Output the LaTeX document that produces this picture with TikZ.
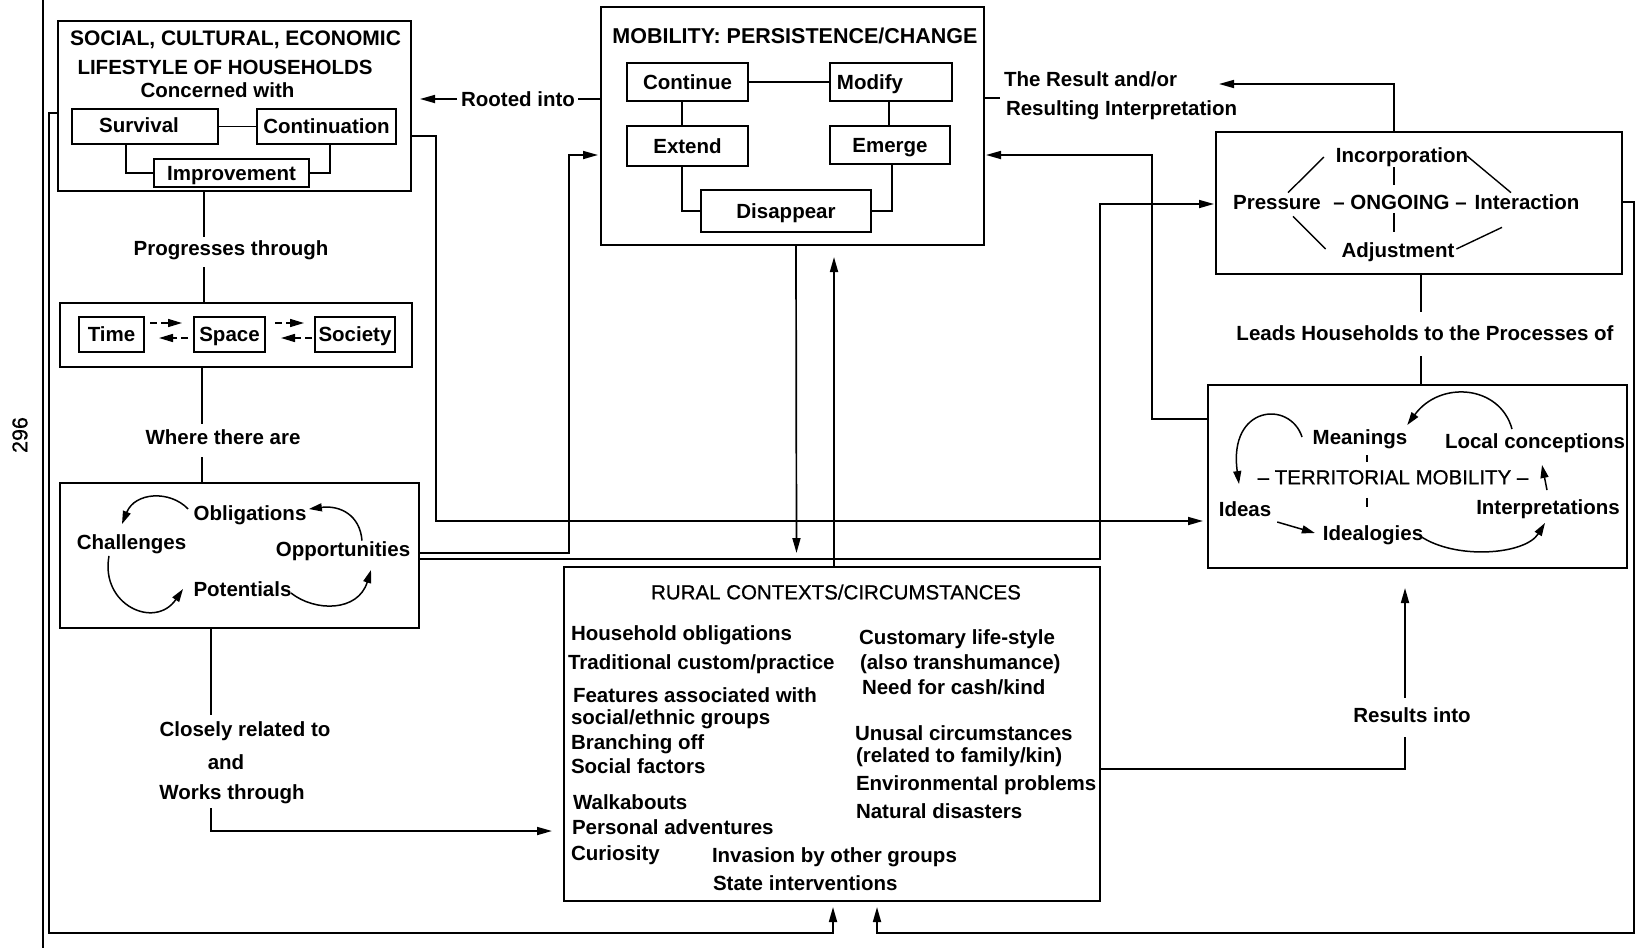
\documentclass[tikz,border=0pt]{standalone}
\usepackage{fontspec}
\setmainfont{Liberation Sans}
\newfontfamily\medfont[FakeBold=0.7]{Liberation Sans}
\usetikzlibrary{arrows.meta,calc}
\begin{document}
\begin{tikzpicture}[x=1pt,y=-1pt,
  every node/.style={inner sep=0pt,outer sep=0pt,text height=14.7pt,text depth=0pt,
     font=\fontsize{20.5}{24}\selectfont\bfseries},
  reg/.style={font=\fontsize{20.5}{24}\selectfont},
  med/.style={font=\fontsize{20.5}{24}\medfont},
  bx/.style 2 args={draw,line width=1.7pt,minimum width=#1pt,minimum height=#2pt},
  ln/.style={line width=1.7pt},
  fine/.style={line width=1.4pt},
  arr/.style={line width=1.7pt,-{Triangle[length=15pt,width=8pt]}},
  carr/.style={line width=1.5pt,-{Triangle[length=13pt,width=8pt]}},
  darr/.style={line width=1.5pt,dash pattern=on 7pt off 4pt,-{Triangle[length=14pt,width=8pt]}},
]
\useasboundingbox (0,0) rectangle (1648,948);

% page margin rule and page number
\draw[ln] (43,0) -- (43,948);
\node[font=\fontsize{21.5}{24}\medfont,rotate=90] (pg) at (20,435) {296};

% ---------- household lifestyle ----------
\node[bx={353}{170}] (soc) at (234.5,106) {};
\node[font=\fontsize{21}{24}\selectfont\bfseries] (socA) at (235.5,38) {SOCIAL, CULTURAL, ECONOMIC};
\node (socB) at (225,67) {LIFESTYLE OF HOUSEHOLDS};
\node (socC) at (217.5,90) {Concerned with};
\node[bx={146}{35}] (surv) at (145,126.5) {};
\node (survT) at (139,125) {Survival};
\node[bx={139}{35}] (contn) at (326.5,126.5) {Continuation};
\node[bx={155}{28}] (impr) at (231.5,173) {Improvement};
\draw[ln] (surv.east) -- (contn.west);
\draw[ln] ($(surv.south)+(-19,0)$) |- (impr.west);
\draw[ln] ($(contn.south)+(3.5,0)$) |- (impr.east);

\node (prog) at (231,248) {Progresses through};
\draw[ln] ($(soc.south)+(-30.5,0)$) -- ($(prog.north)+(-27,-4)$);

% ---------- time / space / society ----------
\node[bx={352}{64}] (tss) at (236,335) {};
\node[bx={65}{35}] (time) at (111.5,334.5) {Time};
\node[bx={71}{35}] (space) at (229.5,334.5) {Space};
\node[bx={80}{35}] (soct) at (355,334.5) {Society};
\draw[ln] ($(prog.south)+(-27,12)$) -- ($(tss.north)+(-32,0)$);
\draw[darr] ($(time.east)+(6,-11.5)$) -- ($(space.west)+(-12,-11.5)$);
\draw[darr] ($(space.west)+(-6,3.5)$) -- ($(time.east)+(15,3.5)$);
\draw[darr] ($(space.east)+(10,-11.5)$) -- ($(soct.west)+(-11,-11.5)$);
\draw[darr] ($(soct.west)+(-3,3.5)$) -- ($(space.east)+(16,3.5)$);

\node (where) at (223,437) {Where there are};
\draw[ln] ($(tss.south)+(-34,0)$) -- ($(where.north)+(-21,-6)$);

% ---------- challenges / opportunities ----------
\node[bx={359}{145}] (ch) at (239.5,555.5) {};
\draw[ln] ($(where.south)+(-21,13)$) -- ($(ch.north)+(-37.5,0)$);
\node (obl) at (250,513) {Obligations};
\node (chal) at (131.5,542) {Challenges};
\node (opp) at (343,549) {Opportunities};
\node (pot) at (242.5,589) {Potentials};
\draw[carr] ($(obl.west)+(-5.5,-4)$) .. controls (170,490) and (135,492) .. ($(chal.north)+(-9.5,-10.6)$);
\draw[carr] ($(opp.north)+(19,-1)$) .. controls (360,515) and (340,505) .. ($(obl.east)+(2.5,-4)$);
\draw[carr] ($(chal.south)+(-22.5,6.6)$) .. controls (100,605) and (155,630) .. ($(pot.west)+(-10.5,0)$);
\draw[carr] ($(pot.east)+(-0.5,4)$) .. controls (315,612) and (358,612) .. ($(opp.south)+(28,13.6)$);

\node (clo) at (245,729) {Closely related to};
\node (and) at (226,762) {and};
\node (wrk) at (232,792) {Works through};
\draw[ln] ($(ch.south)+(-28.5,0)$) -- ($(clo.north)+(-34,-7)$);

% ---------- mobility ----------
\node[bx={383}{238}] (mob) at (792.5,126) {};
\node[font=\fontsize{21.5}{24}\selectfont\bfseries] (mobT) at (795,36) {MOBILITY: PERSISTENCE/CHANGE};
\node[bx={121}{38}] (cont) at (687.5,82) {Continue};
\node[bx={122}{38}] (modi) at (891,82) {};
\node (modiT) at (870,82) {Modify};
\node[bx={121}{40}] (ext) at (687.5,146) {Extend};
\node[bx={120}{38}] (emer) at (890,145) {Emerge};
\node[bx={170}{42}] (dis) at (786,211) {Disappear};
\draw[ln] (cont.east) -- (modi.west);
\draw[ln] ($(cont.south)+(-5.5,0)$) -- ($(ext.north)+(-5.5,0)$);
\draw[ln] ($(modi.south)+(-2,0)$) -- ($(emer.north)+(-1,0)$);
\draw[ln] ($(ext.south)+(-5.5,0)$) |- (dis.west);
\draw[ln] ($(emer.south)+(2,0)$) |- (dis.east);

\node (root) at (518,99) {Rooted into};
\coordinate (rootTip) at (420,99);
\draw[ln] (mob.west |- root.east) -- ($(root.east)+(3,0)$);
\draw[arr] ($(root.west)+(-4,0)$) -- (rootTip);

\node[anchor=west] (res1) at (1004,79) {The Result and/or};
\node[anchor=west] (res2) at (1006,108) {Resulting Interpretation};
\draw[ln] ($(mob.east)+(0,-28)$) -- ++(16,0);

% ---------- ongoing ----------
\node[bx={406}{142}] (ong) at (1419,203) {};
\node (inc) at (1402,155) {Incorporation};
\node (pres) at (1277,202) {Pressure};
\node (ongT) at (1400,202) {– ONGOING –};
\node (inter) at (1527,202) {Interaction};
\node (adj) at (1398,250) {Adjustment};
\draw[fine] ($(ongT.north)+(-6,-27.6)$) -- ($(ongT.north)+(-6,-9.6)$);
\draw[fine] ($(ongT.south)+(-6,3.6)$) -- ($(ongT.south)+(-6,22.6)$);
\draw[fine] ($(pres.north)+(11,-2)$) -- ($(inc.west)+(-12,2)$);
\draw[fine] ($(inc.east)+(-1,1)$) -- ($(inter.north)+(-16,-2)$);
\draw[fine] ($(pres.south)+(16,7)$) -- ($(adj.west)+(-16,-1)$);
\draw[fine] ($(adj.east)+(2,-1)$) -- ($(inter.south)+(-25,18)$);

\coordinate (resTip) at (1219,84);
\draw[arr] ($(ong.north)+(-25,0)$) |- (resTip);

\node (leads) at (1425,333) {Leads Households to the Processes of};
\draw[ln] ($(ong.south)+(2,0)$) -- ($(leads.north)+(-4,-14)$);

% ---------- territorial mobility ----------
\node[bx={419}{183}] (terr) at (1417.5,476.5) {};
\draw[ln] ($(leads.south)+(-4,16)$) -- ($(terr.north)+(3.5,0)$);
\node (mean) at (1360,437) {Meanings};
\node (loc) at (1535,441) {Local conceptions};
\node[med] (terrT) at (1393,477) {– TERRITORIAL MOBILITY –};
\node (ideas) at (1245,509) {Ideas};
\node (idl) at (1373,533) {Idealogies};
\node (intp) at (1548,507) {Interpretations};
\draw[fine] ($(terrT.north)+(-26,-14.6)$) -- ($(terrT.north)+(-26,-7.6)$);
\draw[fine] ($(terrT.south)+(-26,13.6)$) -- ($(terrT.south)+(-26,22.6)$);
\draw[carr] ($(mean.west)+(-10.7,0)$) .. controls (1290,400) and (1228,405) .. ($(ideas.north)+(-6,-17.6)$);
\draw[carr] ($(loc.north)+(-23,-4.6)$) .. controls (1500,385) and (1440,380) .. ($(mean.east)+(0,-12)$);
\draw[carr] ($(ideas.east)+(6,13)$) -- ($(idl.west)+(-8,0)$);
\draw[carr] ($(idl.east)+(-3,3)$) .. controls (1455,560) and (1525,555) .. ($(intp.south)+(-3,8.6)$);
\draw[carr] ($(intp.north)+(-1,-9.6)$) -- ($(loc.south)+(7,16.6)$);

% ---------- rural contexts ----------
\node[bx={536}{334}] (rural) at (832,734) {};
\node[med] (rurT) at (836,592) {RURAL CONTEXTS/CIRCUMSTANCES};
\node[anchor=west] (r1) at (571,633) {Household obligations};
\node[anchor=west] (r2) at (568,662) {Traditional custom/practice};
\node[anchor=west] (r3) at (573,695) {Features associated with};
\node[anchor=west] (r4) at (571,717) {social/ethnic groups};
\node[anchor=west] (r5) at (571,742) {Branching off};
\node[anchor=west] (r6) at (571,766) {Social factors};
\node[anchor=west] (r7) at (573,802) {Walkabouts};
\node[anchor=west] (r8) at (572,827) {Personal adventures};
\node[anchor=west] (r9) at (571,853) {Curiosity};
\node[anchor=west] (s1) at (859,637) {Customary life-style};
\node[anchor=west] (s2) at (860,662) {(also transhumance)};
\node[anchor=west] (s3) at (862,687) {Need for cash/kind};
\node[anchor=west] (s4) at (855,733) {Unusal circumstances};
\node[anchor=west] (s5) at (856,755) {(related to family/kin)};
\node[anchor=west] (s6) at (856,783) {Environmental problems};
\node[anchor=west] (s7) at (856,811) {Natural disasters};
\node[anchor=west] (u1) at (712,855) {Invasion by other groups};
\node[anchor=west] (u2) at (713,883) {State interventions};

\coordinate (wkEnd) at (552,831);
\draw[arr] ($(wrk.south)+(-21,9)$) |- (wkEnd);

% ---------- cross connectors ----------
\coordinate (tA) at ($(terr.west)+(-5,44.5)$);
\draw[arr] ($(soc.east)+(0,30)$) -- ++(25,0) |- (tA);
\coordinate (tB) at ($(mob.west)+(-3,29)$);
\draw[arr] ($(ch.east)+(0,-2.5)$) -- ++(150,0) |- (tB);
\coordinate (tC) at ($(ong.west)+(-2,1)$);
\draw[arr] ($(ch.east)+(0,3.5)$) -- ++(681,0) |- (tC);
\coordinate (tD) at ($(mob.east)+(2,29)$);
\draw[arr] ($(terr.west)+(0,-57.5)$) -- ++(-56,0) |- (tD);
\coordinate (tM) at ($(rural.north)+(-35.5,-14)$);
\draw[arr] ($(mob.south)+(3.5,0)$) -- (tM);
\coordinate (tU) at ($(mob.south)+(41.5,12)$);
\draw[arr] ($(rural.north)+(2,0)$) -- (tU);

\node (resI) at (1412,715) {Results into};
\coordinate (tE) at ($(terr.south)+(-12.5,20)$);
\draw[ln] ($(rural.east)+(0,35)$) -| ($(resI.south)+(-7,15)$);
\draw[arr] ($(resI.north)+(-7,-10)$) -- (tE);

% outer feedback loops into the rural box
\coordinate (loopL) at (49,933);
\coordinate (loopR) at (1634,933);
\coordinate (tLL) at ($(rural.south)+(1,6)$);
\coordinate (tLR) at ($(rural.south)+(45,6)$);
\draw[arr] ($(soc.west)+(0,7)$) -| (loopL) -| (tLL);
\draw[arr] ($(ong.east)+(0,-1)$) -| (loopR) -| (tLR);
\end{tikzpicture}
\end{document}
